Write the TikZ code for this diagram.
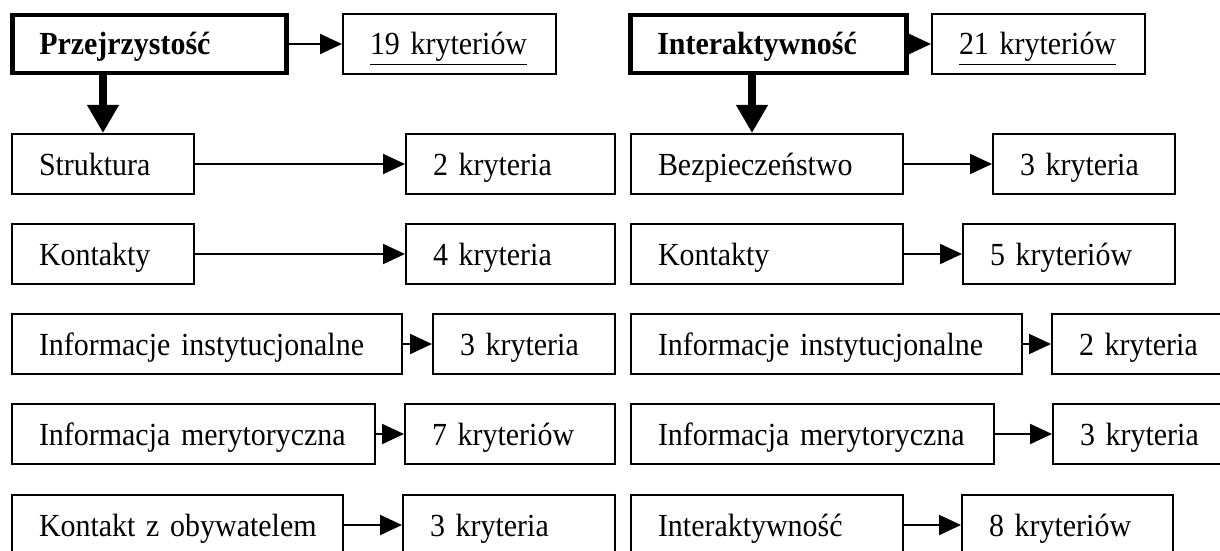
\documentclass[tikz,border=0pt]{standalone}
\usepackage{fontspec}
\setmainfont[FakeStretch=0.93, WordSpace=0.8]{Liberation Serif}
\usetikzlibrary{arrows.meta}

\tikzset{
  box/.style={draw, line width=1pt, anchor=west, minimum height=30pt,
    inner xsep=0pt, inner ysep=0pt, align=left,
    text height=11.5pt, text depth=0.5pt,
    execute at begin node={\hspace*{13.5pt}},
    font=\fontsize{16.1}{19}\selectfont},
  mainbox/.style={box, line width=2.25pt, minimum height=29pt,
    font=\fontsize{16.1}{19}\selectfont\bfseries},
  arr/.style={line width=1pt, -{Triangle[length=11pt,width=10pt]}},
  bigarr/.style={line width=4pt, -{Triangle[length=14pt,width=15pt]}},
}

\begin{document}
\begin{tikzpicture}[x=0.5pt, y=-0.5pt]
    \useasboundingbox (0,0) rectangle (1220,551);

    % Nodes (left: Przejrzystosc)
    \node[mainbox, text width=137pt] (przej) at (10,44) {Przejrzystość};
    \node[box, text width=106.5pt] (k19) at (342,44) {\underline{19 kryteriów}};
    \node[box, text width=91pt] (strukt) at (11,164) {Struktura};
    \node[box, text width=104.5pt] (k2) at (405,164) {2 kryteria};
    \node[box, text width=91pt] (kont) at (11,254) {Kontakty};
    \node[box, text width=104.5pt] (k4) at (405,254) {4 kryteria};
    \node[box, text width=195pt] (info) at (11,344) {Informacje instytucjonalne};
    \node[box, text width=91pt] (k3a) at (432,344) {3 kryteria};
    \node[box, text width=181.5pt] (mery) at (11,434) {Informacja merytoryczna};
    \node[box, text width=105pt] (k7) at (404,434) {7 kryteriów};
    \node[box, text width=165.5pt] (obyw) at (11,525) {Kontakt z obywatelem};
    \node[box, text width=106pt] (k3b) at (402,525) {3 kryteria};

    % Nodes (right: Interaktywnosc)
    \node[mainbox, text width=138pt] (inter) at (628,44) {Interaktywność};
    \node[box, text width=106.5pt] (k21) at (931,44) {\underline{21 kryteriów}};
    \node[box, text width=136pt] (bezp) at (630,164) {Bezpieczeństwo};
    \node[box, text width=91pt] (k3c) at (992,164) {3 kryteria};
    \node[box, text width=136pt] (kontr) at (630,254) {Kontakty};
    \node[box, text width=106pt] (k5) at (962,254) {5 kryteriów};
    \node[box, text width=195.5pt] (infor) at (630,344) {Informacje instytucjonalne};
    \node[box, text width=90.5pt] (k2b) at (1051,344) {2 kryteria};
    \node[box, text width=181.5pt] (meryr) at (630,434) {Informacja merytoryczna};
    \node[box, text width=90pt] (k3d) at (1052,434) {3 kryteria};
    \node[box, text width=136pt] (interr) at (630,525) {Interaktywność};
    \node[box, text width=105.5pt] (k8) at (961,525) {8 kryteriów};

    \coordinate (bezptop) at ([xshift=-7.5pt]bezp.north);

    % Edges (criteria counts)
    \draw[arr] (przej) -- (k19);
    \draw[arr] (strukt) -- (k2);
    \draw[arr] (kont) -- (k4);
    \draw[arr] (info) -- (k3a);
    \draw[arr] (mery) -- (k7);
    \draw[arr] (obyw) -- (k3b);
    \draw[arr] (inter) -- (k21);
    \draw[arr] (bezp) -- (k3c);
    \draw[arr] (kontr) -- (k5);
    \draw[arr] (infor) -- (k2b);
    \draw[arr] (meryr) -- (k3d);
    \draw[arr] (interr) -- (k8);

    % Edges (main categories)
    \draw[bigarr] (przej.south -| strukt.north) -- (strukt.north);
    \draw[bigarr] (inter.south -| bezptop) -- (bezptop);
\end{tikzpicture}
\end{document}
